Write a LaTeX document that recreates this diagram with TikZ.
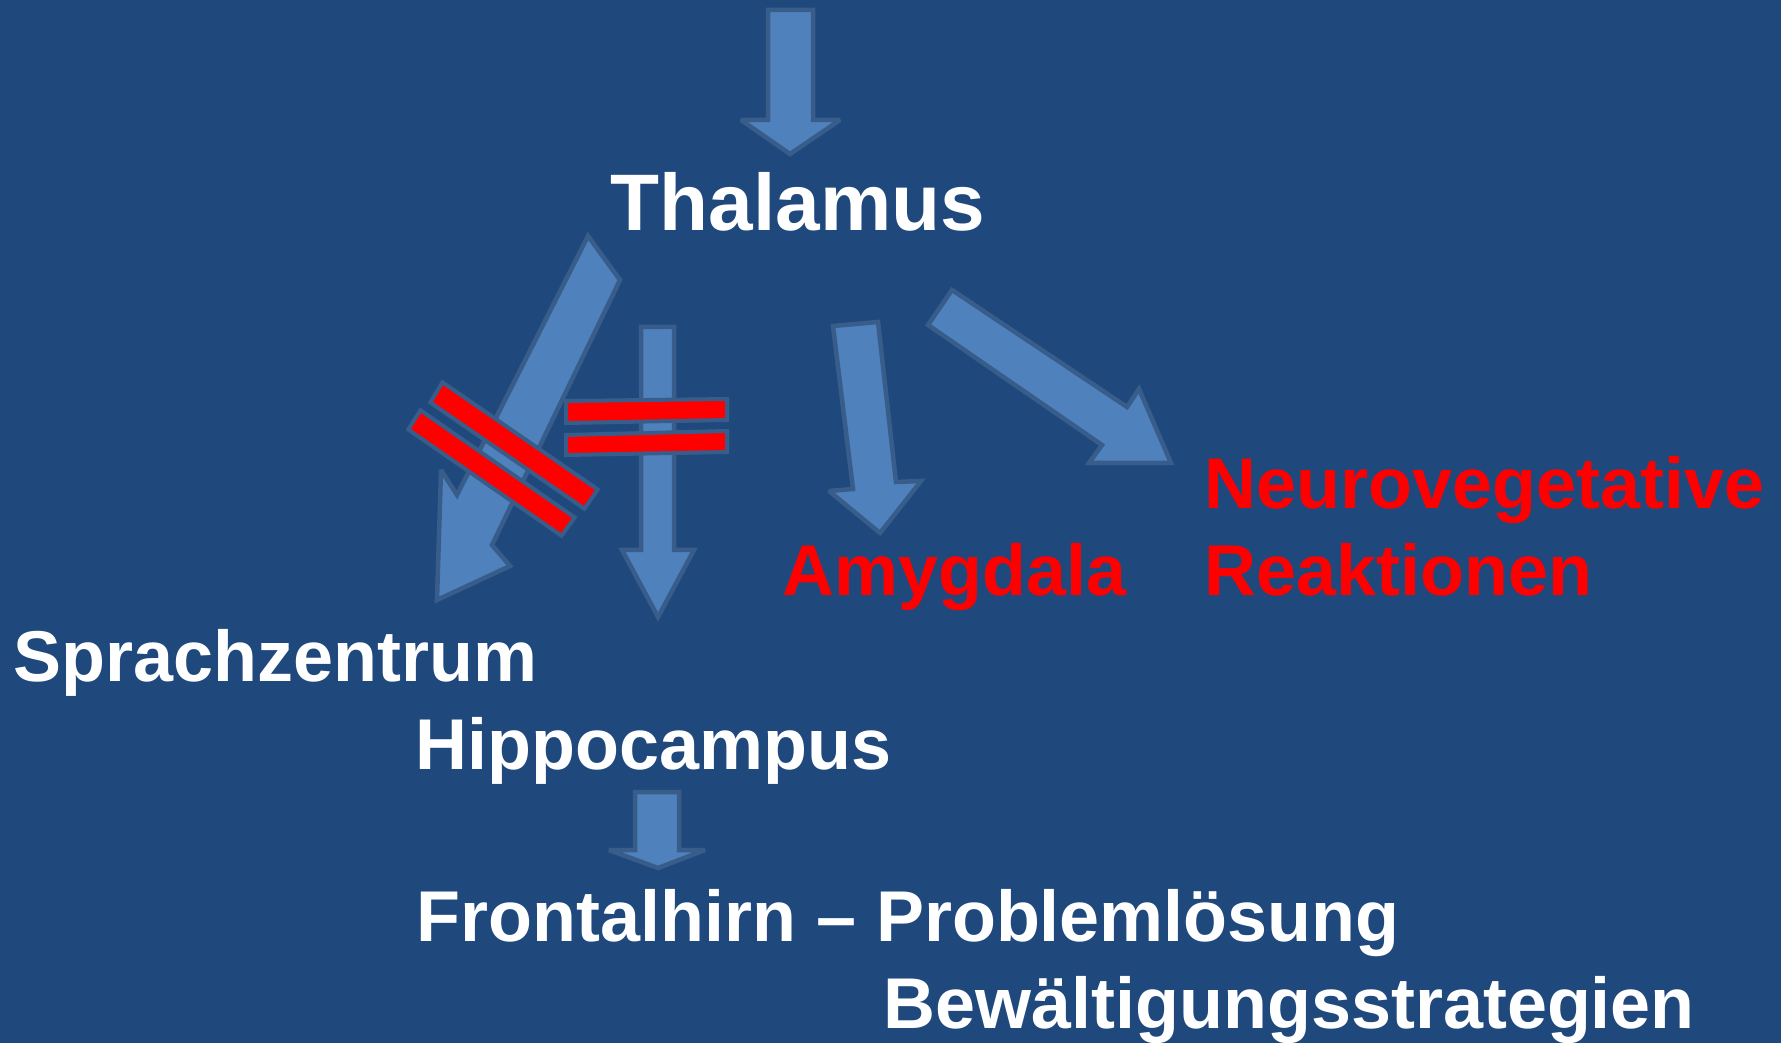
\documentclass[tikz,border=0pt]{standalone}
\usepackage{fontspec}
\setmainfont{Liberation Sans}
\definecolor{bg}{RGB}{31,73,125}
\definecolor{arrowfill}{RGB}{79,129,189}
\definecolor{arrowline}{RGB}{56,93,138}
\definecolor{barred}{RGB}{255,0,0}
\begin{document}
\begin{tikzpicture}[x=0.01cm,y=-0.01cm,
  blockarrow/.style={fill=arrowfill,draw=arrowline,line width=4.5*0.01cm,line join=miter,miter limit=2.5},
  redbar/.style={fill=barred,draw=arrowline,line width=4*0.01cm,line join=miter},
  lbl/.style={anchor=base west,inner sep=0pt,font=\bfseries\fontsize{20.45pt}{24pt}\selectfont},
  white lbl/.style={lbl,text=white},
  red lbl/.style={lbl,text=barred}]
\useasboundingbox (0,0) rectangle (1781,1043);
\fill[bg] (0,0) rectangle (1781,1043);
\clip (0,0) rectangle (1781,1043);

% block arrows
\draw[blockarrow] (768,10) -- (813,10) -- (813,120) -- (840,120) -- (790,154) -- (741,120) -- (768,120) -- cycle;
\draw[blockarrow] (588,236) -- (620,280) -- (492,545) -- (510,566) -- (437,600) -- (441,470) -- (457,495) -- cycle;
\draw[blockarrow] (641,327) -- (674,327) -- (674,550) -- (694,550) -- (658,617) -- (622,550) -- (641,550) -- cycle;
\draw[blockarrow] (833,326) -- (878,322) -- (896,482) -- (921,481) -- (880,533) -- (829,491) -- (853,489) -- cycle;
\draw[blockarrow] (952,290) -- (1127,407) -- (1139,389) -- (1171,463) -- (1089,463) -- (1102,445) -- (928,325) -- cycle;
\draw[blockarrow] (635,792) -- (679,792) -- (679,850) -- (705,850) -- (658,868) -- (609,850) -- (635,850) -- cycle;

% red crossing bars
\draw[redbar] (442.5,382.3) -- (597.7,489.5) -- (584.5,508.7) -- (430.3,402.5) -- cycle;
\draw[redbar] (420.5,410.3) -- (574.7,517.5) -- (561.5,535.7) -- (408.3,429.5) -- cycle;
\draw[redbar] (566,401) -- (727,399) -- (727,420) -- (566,423) -- cycle;
\draw[redbar] (566,435) -- (727,431) -- (727,452) -- (566,455) -- cycle;

% labels
\node[white lbl,font=\bfseries\fontsize{22.8pt}{27pt}\selectfont] (thal) at (610,231) {Thalamus};
\node[white lbl] (sprach) at (13,682) {Sprachzentrum};
\node[white lbl] (hippo) at (415,770) {Hippocampus};
\node[red lbl] (amyg) at (782,596) {Amygdala};
\node[red lbl] (neuro) at (1204,509) {Neurovegetative};
\node[red lbl] (reakt) at (1204,596) {Reaktionen};
\node[white lbl] (front) at (416,942) {Frontalhirn – Problemlösung};
\node[white lbl] (bew) at (883,1028) {Bewältigungsstrategien};
\end{tikzpicture}
\end{document}
